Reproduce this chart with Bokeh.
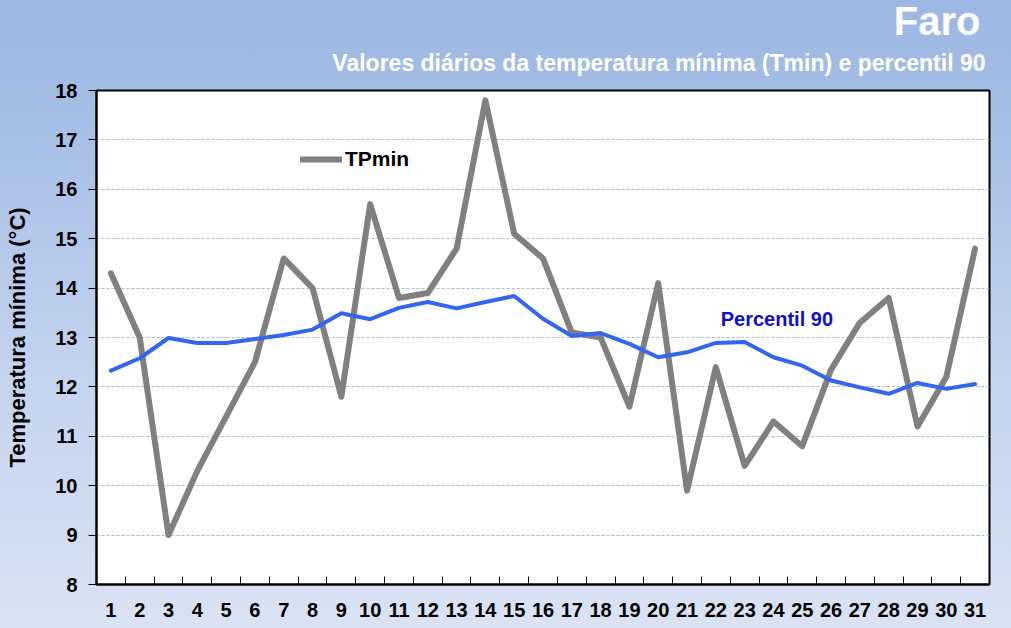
from bokeh.plotting import figure
from bokeh.models import (Range1d, FixedTicker, Title, Label, Legend, LegendItem)
from bokeh.embed import file_html
from bokeh.resources import INLINE

days = list(range(1, 32))
tpmin = [14.3, 13.0, 9.0, 10.3, 11.4, 12.5, 14.6, 14.0, 11.8, 15.7,
         13.8, 13.9, 14.8, 17.8, 15.1, 14.6, 13.1, 13.0, 11.6, 14.1,
         9.9, 12.4, 10.4, 11.3, 10.8, 12.35, 13.3, 13.8, 11.2, 12.2, 14.8]
perc90 = [12.33, 12.58, 12.99, 12.89, 12.89, 12.97, 13.05, 13.16, 13.49, 13.37,
          13.6, 13.72, 13.59, 13.72, 13.84, 13.38, 13.03, 13.09, 12.87, 12.6,
          12.7, 12.89, 12.91, 12.6, 12.43, 12.13, 11.99, 11.86, 12.08, 11.96, 12.06]
y_ticks = list(range(8, 19))
title_text = "Faro"
subtitle_text = "Valores diários da temperatura mínima (Tmin) e percentil 90"
ylabel_text = "Temperatura mínima (°C)"
series_name = "TPmin"
perc_name = "Percentil 90"

FONT = "Liberation Sans"

p = figure(width=1011, height=628, output_backend="svg", toolbar_location=None,
           x_range=Range1d(0.5, 31.5), y_range=Range1d(8, 18),
           min_border_left=96, min_border_right=22, min_border_top=90, min_border_bottom=44)

p.border_fill_color = None
p.styles = {"background": "linear-gradient(to bottom, #9cb7e3 0%, #a6bfe6 20%, #c4d3ee 60%, #dae3f3 100%)"}
p.background_fill_color = "white"
p.outline_line_color = "black"
p.outline_line_width = 2

# titles
p.add_layout(Title(text=subtitle_text, align="right", text_color="white",
                   text_font=FONT, text_font_size="23px", text_font_style="bold",
                   offset=4, standoff=30), "above")
p.add_layout(Title(text=title_text, align="right", text_color="white",
                   text_font=FONT, text_font_size="40px", text_font_style="bold",
                   offset=9, standoff=-20), "above")

# lines
r1 = p.line(days, tpmin, line_color="#808080", line_width=6, line_join="round", line_cap="round")
p.line(days, perc90, line_color="#3366ee", line_width=4, line_join="round", line_cap="round")

legend = Legend(items=[LegendItem(label=series_name, renderers=[r1])],
                location=(204, 413), background_fill_alpha=0, border_line_color=None,
                label_text_font=FONT, label_text_font_size="21px", label_text_font_style="bold",
                label_text_color="black", glyph_width=42, glyph_height=20,
                padding=0, margin=0, label_standoff=3)
p.add_layout(legend)

p.add_layout(Label(x=22.17, y=13.38, text=perc_name, text_color="#1010cc",
                   text_font=FONT, text_font_size="20px", text_font_style="bold",
                   text_align="left", text_baseline="middle"))

# x axis
xa = p.xaxis[0]
xa.ticker = FixedTicker(ticks=days, minor_ticks=[d + 0.5 for d in days[:-1]])
xa.major_tick_line_color = None
xa.minor_tick_in = 8
xa.minor_tick_out = 0
xa.minor_tick_line_color = "black"
xa.minor_tick_line_width = 1
xa.axis_line_color = "black"
xa.axis_line_width = 2
xa.major_label_text_font = FONT
xa.major_label_text_font_size = "20px"
xa.major_label_text_font_style = "bold"
xa.major_label_text_color = "black"
xa.major_label_standoff = 12

# y axis
ya = p.yaxis[0]
ya.ticker = FixedTicker(ticks=y_ticks)
ya.minor_tick_line_color = None
ya.major_tick_in = 0
ya.major_tick_out = 8
ya.major_tick_line_color = "black"
ya.axis_line_color = "black"
ya.axis_line_width = 2
ya.major_label_text_font = FONT
ya.major_label_text_font_size = "20px"
ya.major_label_text_font_style = "bold"
ya.major_label_text_color = "black"
ya.major_label_standoff = 11
ya.axis_label = ylabel_text
ya.axis_label_text_font = FONT
ya.axis_label_text_font_size = "22px"
ya.axis_label_text_font_style = "bold"
ya.axis_label_text_color = "black"
ya.axis_label_standoff = 22

p.xgrid.grid_line_color = None
p.ygrid.ticker = FixedTicker(ticks=y_ticks[1:-1])
p.ygrid.grid_line_color = "#a9bad4"
p.ygrid.grid_line_dash = "3 2"
p.ygrid.grid_line_width = 1

open("out.html", "w").write(file_html(p, INLINE))
